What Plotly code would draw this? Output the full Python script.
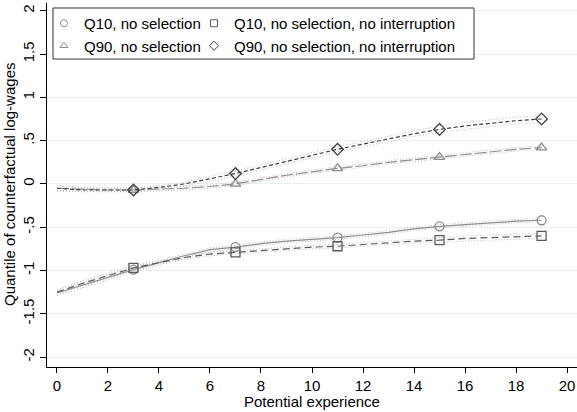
import plotly.graph_objects as go

# Potential experience (years)
experience = list(range(20))

# Counterfactual log-wage quantiles by potential experience
q10_nosel = [-1.26, -1.17, -1.08, -0.99, -0.91, -0.83, -0.76, -0.73, -0.69, -0.66,
             -0.64, -0.62, -0.59, -0.56, -0.52, -0.49, -0.47, -0.45, -0.43, -0.42]
q10_noint = [-1.25, -1.15, -1.06, -0.97, -0.91, -0.85, -0.81, -0.79, -0.77, -0.75,
             -0.73, -0.72, -0.70, -0.68, -0.66, -0.65, -0.63, -0.62, -0.61, -0.60]
q90_nosel = [-0.05, -0.06, -0.07, -0.07, -0.06, -0.05, -0.03, 0.00, 0.05, 0.10,
             0.14, 0.18, 0.21, 0.25, 0.28, 0.31, 0.34, 0.37, 0.40, 0.42]
q90_noint = [-0.05, -0.07, -0.07, -0.07, -0.04, 0.00, 0.06, 0.12, 0.19, 0.26,
             0.33, 0.40, 0.46, 0.52, 0.58, 0.63, 0.67, 0.70, 0.73, 0.75]

# Half-width of the pointwise confidence bands
q10_nosel_ci = [0.03, 0.03, 0.03, 0.03, 0.02, 0.02, 0.02, 0.02, 0.02, 0.02,
                0.02, 0.02, 0.02, 0.02, 0.02, 0.02, 0.02, 0.02, 0.02, 0.02]
q10_noint_ci = [0.03, 0.03, 0.03, 0.03, 0.02, 0.02, 0.02, 0.02, 0.02, 0.02,
                0.02, 0.02, 0.02, 0.02, 0.02, 0.03, 0.03, 0.03, 0.03, 0.03]
q90_nosel_ci = [0.03, 0.02, 0.02, 0.02, 0.02, 0.02, 0.02, 0.02, 0.02, 0.02,
                0.02, 0.02, 0.02, 0.02, 0.02, 0.02, 0.02, 0.02, 0.02, 0.02]
q90_noint_ci = [0.03, 0.02, 0.02, 0.02, 0.02, 0.02, 0.03, 0.03, 0.03, 0.03,
                0.03, 0.03, 0.03, 0.03, 0.03, 0.04, 0.04, 0.04, 0.04, 0.04]

# Experience values where markers are drawn
marker_points = [3, 7, 11, 15, 19]

labels = ["Q10, no selection", "Q10, no selection, no interruption",
          "Q90, no selection", "Q90, no selection, no interruption"]
y_ticks = [-2, -1.5, -1, -0.5, 0, 0.5, 1, 1.5, 2]
y_ticklabels = ["-2", "-1.5", "-1", "-.5", "0", ".5", "1", "1.5", "2"]
x_ticks = list(range(0, 21, 2))

# (values, band half-width, marker, colour, dash, legend column)
series = [
    (q10_nosel, q10_nosel_ci, "circle-open", "#8c8c8c", "solid", "legend"),
    (q10_noint, q10_noint_ci, "square-open", "#5a5a5a", "7px,4px", "legend2"),
    (q90_nosel, q90_nosel_ci, "triangle-up-open", "#8c8c8c", "12px,3px", "legend"),
    (q90_noint, q90_noint_ci, "diamond-open", "#404040", "4px,2.5px", "legend2"),
]

fig = go.Figure()

for (vals, ci, sym, col, dash, leg), name in zip(series, labels):
    lo = [v - c for v, c in zip(vals, ci)]
    hi = [v + c for v, c in zip(vals, ci)]
    for band in (lo, hi):
        fig.add_trace(go.Scatter(x=experience, y=band, mode="lines",
                                 line=dict(color="#b4b4b4", width=0.9, dash="1px,2px"),
                                 showlegend=False, hoverinfo="skip"))
    fig.add_trace(go.Scatter(x=experience, y=vals, mode="lines",
                             line=dict(color=col, width=1.2, dash=dash),
                             showlegend=False))
    fig.add_trace(go.Scatter(x=[experience[i] for i in marker_points],
                             y=[vals[i] for i in marker_points], mode="markers",
                             marker=dict(symbol=sym, size=9, color=col,
                                         line=dict(width=1.3, color=col)),
                             showlegend=False))

# Marker-only legend entries, split over two columns
for (vals, ci, sym, col, dash, leg), name in zip(series, labels):
    fig.add_trace(go.Scatter(x=[None], y=[None], mode="markers", name=name,
                             legend=leg,
                             marker=dict(symbol=sym, size=7, color=col,
                                         line=dict(width=1.0, color=col))))

font = dict(family="Liberation Sans, Arial, sans-serif", size=15, color="#000000")
legend_style = dict(orientation="v", yanchor="top", xanchor="left", y=0.989,
                    bgcolor="rgba(0,0,0,0)", borderwidth=0, font=font, itemwidth=30)

fig.update_layout(
    width=577, height=412,
    margin=dict(l=47, r=0, t=3, b=45),
    paper_bgcolor="white", plot_bgcolor="white",
    font=font,
    showlegend=True,
    legend=dict(x=-0.0057, **legend_style),
    legend2=dict(x=0.2774, **legend_style),
    shapes=[
        dict(type="rect", xref="paper", yref="paper",
             x0=0.0113, x1=0.8057, y0=0.846, y1=0.9863,
             line=dict(color="#333333", width=1), fillcolor="white", layer="above"),
    ],
    xaxis=dict(range=[-0.39, 20.39], tickvals=x_ticks, ticks="outside", ticklen=5,
               tickcolor="black", showline=True, linecolor="black", linewidth=1,
               showgrid=False, zeroline=False, tickfont=font),
    yaxis=dict(range=[-2.115, 2.09], tickvals=y_ticks, ticktext=y_ticklabels,
               ticks="outside", ticklen=6, tickcolor="black", tickangle=-90,
               showline=True, linecolor="black", linewidth=1,
               showgrid=True, gridcolor="#e8f0f2", gridwidth=1,
               zeroline=False, tickfont=font),
    annotations=[
        dict(text="Potential experience", xref="paper", yref="paper",
             x=0.5, y=0, yanchor="top", yshift=-24, showarrow=False, font=font),
        dict(text="Quantile of counterfactual log-wages", xref="paper", yref="paper",
             x=0, y=0.5, xanchor="center", yanchor="middle", xshift=-38,
             textangle=-90, showarrow=False, font=font),
    ],
)

fig.write_html("out.html")
